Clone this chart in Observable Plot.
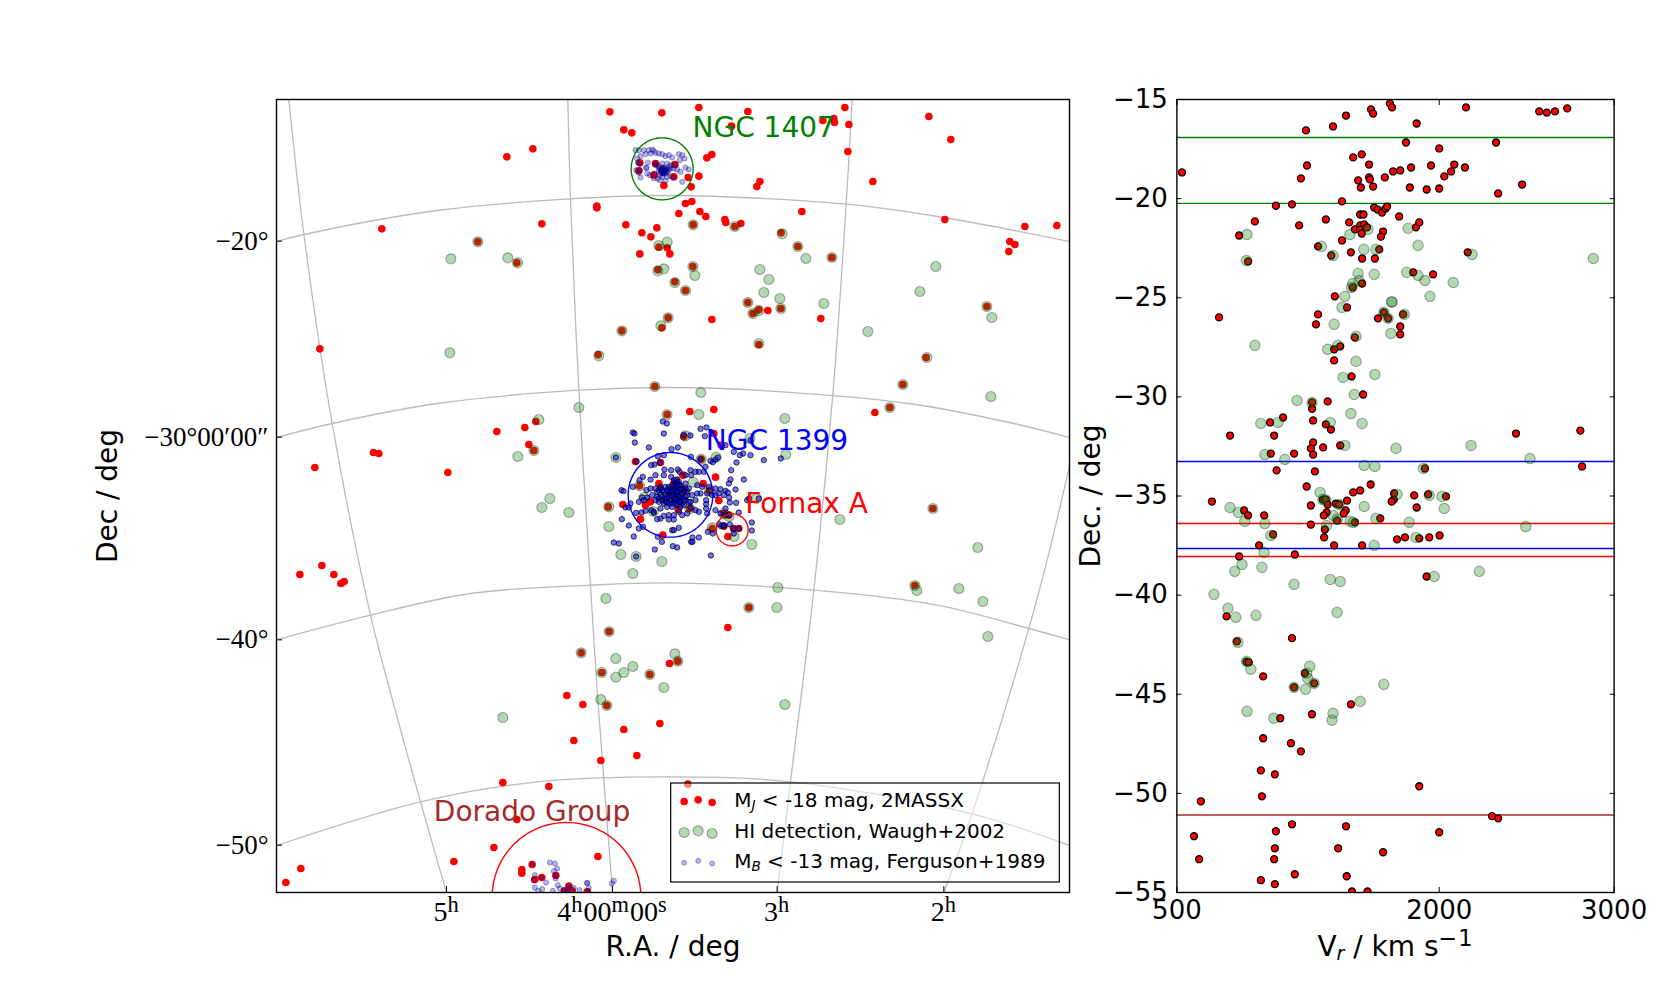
<!DOCTYPE html>
<html>
<head>
<meta charset="utf-8">
<script src="https://cdn.jsdelivr.net/npm/d3@7"></script>
<script src="https://cdn.jsdelivr.net/npm/@observablehq/plot@0.6"></script>
<style>
  body { margin: 0; background: white; }
  #chart { position: relative; width: 1680px; height: 991px; overflow: hidden; }
  #chart svg { position: absolute; top: 0; overflow: visible; }
</style>
</head>
<body>
<div id="chart"></div>
<script>
// sky map: projected offsets in arcmin from the top left corner of the panel
const redMap = [[1000,37],[1156,40],[1042,91],[1066,100],[769,148],[691,172],[961,320],[961,325],[796,373],[316,388],[1048,376],[1096,400],[1123,412],[1141,385],[1090,463],[1147,443],[1172,445],[1180,463],[604,427],[721,490],[1144,511],[1036,694],[1156,685],[1175,655],[965,766],[1135,861],[130,748],[1162,258],
  [1090,190],[1087,214],[1137,192],[1132,227],[1195,195],[1192,232],[1157,210],[1235,234],[1267,230],[1244,262],
  [1267,24],[1414,36],[1705,24],[1957,51],[1365,80],[1639,63],[1672,57],[1674,69],[1717,75],[2023,120],[1714,156],[1291,175],[1306,165],[1450,246],[1441,261],[1789,246],[1227,312],[1246,306],[1207,342],[1270,336],[1288,351],[1576,336],[1345,360],[1348,369],[1393,372],[1375,381],[1250,376],[2005,360],[2245,381],[2341,378],[2200,426],[2215,435],[2197,456],[1514,400],[1564,441],[1666,474],[1249,501],[1195,547],[1227,573],[1414,609],[1447,631],[1429,642],[1474,633],[1513,627],[1306,660],[1633,657],[2131,621],[1447,735],[1949,774],[1879,855],
  [661,996],[745,984],[778,966],[757,1035],[772,1053],[291,1059],[307,1062],[115,1104],[514,1119],[70,1425],[136,1398],[172,1425],[193,1452],[203,1446],[995,1222],[998,1596],[914,1660],[976,1719],[1120,1725],[1179,1692],[1172,945],
  [1222,1012],[1077,1086],[1152,1089],[1089,1159],[1219,1127],[1280,1152],[1317,1133],[1274,1079],[1147,1152],[1039,1215],[1107,1217],[1122,1207],[1092,1259],[1205,1230],[1240,1227],[1299,1174],[1327,1203],[1159,1307],[1342,1280],[1371,1287],[1387,1287],[1354,1311],[1307,1287],[1357,1247],[1342,1242],[1312,1002],[1334,1037],[1202,1172],[1222,1172],[1192,1152],
  [1240,936],[1312,930],[1795,939],[1840,924],[1969,1227],[1417,1524],[1354,1584],[1204,1685],[1915,1458],[1234,2054],
  [871,1788],[919,1815],[991,1818],[1042,1890],[1150,1872],[892,1923],[1081,1968],[973,1983],[679,2049],[817,2061],[721,2160],[652,2244],[964,2271],[532,2286],[73,2307],[28,2349],[767,2295],[736,2310],[736,2321],[796,2334],[775,2340],[838,2328],[877,2360],[864,2374],[887,2374],[932,2377]]

const greenMap = [[523,478],[694,475],[723,490],[604,427],[1147,438],[1172,428],[1162,508],[1144,514],[1036,694],[1153,679],[1175,655],[967,769],[520,760],[1135,861],
  [1250,376],[1375,381],[1517,403],[1564,441],[1588,477],[1666,474],[1978,501],[1450,510],[1477,540],[1249,501],[1255,528],[1195,549],[1227,573],[1462,579],[1930,576],[1510,597],[1642,612],[1414,609],[1447,633],[1429,642],[1513,627],[2131,621],[2146,654],[1774,696],[1447,732],[1951,774],[1879,855],[1273,879],
  [787,960],[907,924],[772,1053],[724,1071],[820,1197],[796,1224],[877,1239],[997,1222],[997,1281],[1018,1074],[1033,1365],[1079,1371],[1069,1422],[1156,1386],[988,1497],[998,1596],[914,1660],[976,1719],[1018,1677],[1018,1733],[1042,1719],[1069,1701],[1120,1725],[1162,1764],[1131,1236],[1102,1194],[1172,945],
  [1250,1148],[1319,1073],[1227,1009],[1420,1017],[1440,1197],[1342,1242],[1357,1251],[1307,1285],[1373,1311],[1426,1335],[1274,1079],[1089,1159],[1299,1174],[1240,1227],
  [1267,945],[1525,957],[2143,891],[1840,924],[1969,1227],[1690,1260],[2104,1344],[1528,1065],
  [1504,1464],[1501,1524],[1417,1524],[1195,1663],[1204,1685],[1525,1815],[1921,1473],[1915,1458],[2047,1467],[2119,1506],[2134,1611],
  [679,1854],[973,1800],[991,1818]]

// dwarfs around NGC 1407 and Dorado, drawn paler
const blueGroups = [[1077,152],[1087,152],[1102,152],[1117,152],[1127,150],[1132,154],[1137,160],[1122,162],[1107,164],[1092,170],[1082,177],[1147,162],[1157,164],[1167,170],[1177,167],[1187,174],[1207,164],[1217,167],[1210,182],[1224,177],[1114,189],[1110,205],[1109,205],[1084,189],[1090,192],[1079,212],[1090,212],[1087,220],[1092,234],[1137,192],[1144,197],[1157,192],[1172,192],[1182,197],[1197,195],[1192,207],[1177,212],[1162,210],[1157,217],[1167,222],[1147,212],[1150,227],[1157,232],[1134,222],[1120,227],[1132,237],[1144,237],[1182,230],[1172,232],[1192,234],[1217,247],[1150,242],[1167,244],[1202,210],[1212,217],[1227,204],[1237,210],[1112,222],[1157,212],[1162,217],[1167,212],[1160,222],[1172,217],
  [1152,210],[1157,204],[1162,204],[1167,207],[1172,210],[1147,204],[1157,220],[1162,222],[1152,220],[1167,217],[1162,214],[1154,214],[1177,202],[1182,207],[1137,197],
  [820,2289],[835,2292],[842,2307],[832,2315],[767,2294],[775,2327],[772,2342],[775,2364],[797,2369],[785,2374],[809,2349],[795,2334],[839,2327],[837,2337],[844,2357],[850,2367],[829,2374],[862,2372],[877,2360],[877,2367],[892,2365],[909,2372],[932,2350],[932,2351],[937,2365],[934,2374],[1012,2344],[1006,2352],[872,2377]]

const blueFornax = [[1069,999],[1074,1002],[1162,1002],[1159,966],[1171,972],[1222,1006],[1242,1008],[1272,988],[1290,984],[1285,1010],[1075,1029],[1117,1044],[1185,1049],[1204,1044],[1144,1070],[1162,1067],[1080,1086],[1150,1089],[1134,1095],[1124,1097],[1164,1110],[1184,1112],[1204,1110],[1243,1072],[1272,1079],[1302,1084],[1309,1088],[1317,1080],[1324,1074],[1347,1037],[1372,1057],[1390,1067],[1400,1062],[1422,1067],[1462,1082],[1513,1077],[1380,1089],[1364,1112],[1402,1140],[1362,1140],[1357,1152],[1287,1102],[1267,1117],[1282,1117],[1257,1117],[1242,1112],[1227,1127],[1209,1117],[1244,1127],[1202,1140],[1137,1127],[1162,1127],[1184,1132],[1122,1140],[1099,1132],[1089,1142],[1069,1162],[1035,1172],[1041,1175],[1110,1172],[1122,1167],[1152,1162],[1142,1177],[1167,1162],[1177,1172],[1197,1152],[1212,1157],[1227,1152],[1262,1157],[1277,1162],[1297,1162],[1317,1167],[1332,1169],[1347,1174],[1377,1170],[1358,1194],[1379,1210],[1412,1202],[1447,1197],[1418,1197],[1360,1209],[1387,1239],[1332,1242],[1347,1227],[1289,1202],[1289,1214],[1289,1227],[1272,1182],[1262,1182],[1247,1187],[1232,1187],[1292,1182],[1307,1187],[1317,1187],[1327,1182],[1354,1179],[1342,1187],[1317,1232],[1360,1275],[1257,1202],[1242,1207],[1227,1202],[1212,1202],[1197,1192],[1182,1187],[1167,1187],[1152,1187],[1142,1192],[1127,1187],[1112,1194],[1097,1194],[1102,1202],[1087,1207],[1062,1212],[1047,1224],[1057,1224],[1079,1240],[1095,1239],[1107,1234],[1124,1232],[1132,1240],[1152,1227],[1172,1222],[1187,1222],[1202,1217],[1217,1212],[1242,1224],[1257,1232],[1267,1237],[1292,1242],[1232,1242],[1217,1247],[1192,1247],[1177,1247],[1162,1249],[1152,1257],[1142,1259],[1192,1260],[1177,1260],[1207,1237],[1036,1259],[1057,1278],[1087,1287],[1100,1282],[1072,1311],[1144,1312],[1156,1327],[1187,1292],[1192,1292],[1207,1285],[1012,1329],[1027,1332],[1135,1350],[1189,1340],[1202,1344],[1248,1314],[1267,1314],[1244,1327],[1248,1327],[1294,1297],[1309,1302],[1334,1280],[1342,1280],[1371,1287],[1387,1287],[1372,1302],[1426,1269],[1426,1293],[1303,1368],[1328,1274],[1357,1247],[1347,1247],[1342,1277],
  [1182,1167],[1192,1162],[1202,1157],[1207,1167],[1197,1172],[1187,1177],[1177,1182],[1197,1182],[1207,1177],[1217,1167],[1222,1177],[1227,1167],[1212,1187],[1202,1187],[1192,1197],[1182,1202],[1172,1197],[1162,1177],[1157,1202],[1147,1207],[1162,1212],[1177,1212],[1192,1207],[1207,1207],[1217,1197],[1232,1177],[1237,1167],[1197,1142],[1202,1147],[1192,1142],[1152,1167],[1147,1172],[1137,1167],[1207,1147],[1197,1162],[1187,1192],[1202,1202],[1167,1207],[1212,1222],[1222,1217],[1237,1207],
  [1187,1157],[1177,1162],[1212,1167],[1192,1172],[1182,1177],[1202,1177],[1217,1182],[1187,1187],[1197,1197],[1207,1192],[1177,1192],[1167,1197],[1157,1192],[1147,1197],[1137,1202],[1172,1207],[1187,1212],[1197,1212],[1212,1207],[1227,1192],[1222,1202],[1172,1172],[1157,1172],[1207,1157],
  [1018,1074],[1079,1371],[1131,1236],[1422,1022]]

// graticule
const parallels = [
  [[0,426],[82,405],[482,333],[882,298],[1182,288],[1712,314],[2002,354],[2379,426]],
  [[0,1014],[167,972],[482,912],[907,872],[1182,864],[1472,874],[1897,912],[2212,972],[2379,1014]],
  [[0,1621],[282,1547],[582,1482],[942,1457],[1182,1450],[1612,1472],[1982,1517],[2257,1587],[2379,1621]],
  [[0,2238],[432,2107],[782,2047],[1182,2032],[1542,2047],[2082,2142],[2379,2238]]
]
const meridians = [
  [[37,0],[82,403],[167,972],[282,1547],[340,1772],[432,2107],[510,2379]],
  [[874,0],[882,298],[907,872],[942,1457],[962,1772],[1008,2379]],
  [[1727,0],[1709,314],[1670,872],[1612,1472],[1542,2047],[1502,2379]],
  [[2379,1100],[2312,1382],[2257,1587],[2087,2142],[2002,2379]]
]

const raTicks = [510, 1008, 1502, 2002]
const raLabels = ['5^{h}', '4^{h}00^{m}00^{s}', '3^{h}', '2^{h}']
const decTicks = [425, 1013, 1621, 2237]
const decLabels = ['−20°', '−30°00′00″', '−40°', '−50°']

const circles = [
  {name: 'NGC 1407', x: 1157, y: 208, rad: 93, color: 'green'},
  {name: 'NGC 1399', x: 1182, y: 1186, rad: 127, color: 'blue'},
  {name: 'Fornax A', x: 1367, y: 1291, rad: 48, color: 'red'},
  {name: 'Dorado Group', x: 870, y: 2392, rad: 223, color: 'red'}
]
const groupLabels = [
  {name: 'NGC 1407', x: 1248, y: 117, color: 'green'},
  {name: 'NGC 1399', x: 1288, y: 1057, color: 'blue'},
  {name: 'Fornax A', x: 1406, y: 1245, color: 'red'},
  {name: 'Dorado Group', x: 472, y: 2169, color: 'brown'}
]
const legendBox = {x1: 1184, x2: 2350, y1: 2052, y2: 2349}
const legendX = [1223, 1265, 1307]
const legendRedY = [2106, 2101, 2109]
const legendGreenY = [2199, 2194, 2202]
const legendBlueY = [2290, 2284, 2292]
const legendText = [
  {t: 'M_{J} < -18 mag, 2MASSX', y: 2104},
  {t: 'HI detection, Waugh+2002', y: 2196},
  {t: 'M_{B} < -13 mag, Ferguson+1989', y: 2287}
]

// velocity panel: [km/s, deg]
const redVel = [[529,-18.68],[1238,-16.56],[1393,-16.36],[1467,-15.81],[1610,-15.5],[1622,-15.71],[1718,-15.2],[1730,-15.4],[2153,-15.4],[1871,-16.21],[2572,-15.6],[2615,-15.66],[2662,-15.6],[2732,-15.45],[1810,-17.17],[2000,-17.47],[2325,-17.17],[1508,-17.92],[1557,-17.77],[1599,-18.28],[1244,-18.33],[1209,-18.98],[1536,-19.08],[1599,-18.93],[1604,-19.03],[1552,-19.44],[1622,-19.39],[1689,-18.93],[1736,-18.63],[1777,-18.58],[1839,-18.43],[1832,-19.44],[1928,-19.54],[1953,-18.33],[2000,-19.49],[2029,-18.88],[2068,-18.63],[2086,-18.28],[2147,-18.43],[2337,-19.74],[2474,-19.29],[1444,-20.14],[1066,-20.36],[1158,-20.29],[1628,-20.45],[1648,-20.55],[1673,-20.7],[1693,-20.5],[1702,-20.4],[1548,-20.8],[1567,-20.8],[1771,-20.9],[1352,-21.05],[946,-21.15],[1199,-21.35],[1485,-21.2],[1518,-21.55],[1548,-21.35],[1548,-21.57],[1571,-21.3],[1587,-21.45],[1557,-21.76],[1679,-21.66],[1667,-21.92],[1867,-21.45],[1886,-21.2],[856,-21.86],[1444,-22.11],[1307,-22.41],[1383,-22.87],[1495,-22.71],[1559,-23.02],[1632,-23.02],[1657,-22.56],[2163,-22.71],[907,-23.17],[1851,-23.72],[1965,-23.82],[1559,-24.28],[1505,-24.48],[1403,-24.93],[1473,-25.49],[1307,-25.84],[1295,-26.34],[741,-25.99],[1683,-25.74],[1650,-26.04],[1708,-26.04],[1794,-25.84],[1777,-26.45],[1777,-26.85],[1518,-27],[1434,-27.45],[1399,-27.6],[1399,-28.16],
  [1499,-28.97],[1565,-29.88],[1362,-30.23],[1273,-30.28],[1273,-30.6],[1279,-31.19],[1107,-31.04],[1033,-31.29],[1352,-31.39],[1381,-31.65],[804,-31.95],[1056,-31.95],[1279,-32.3],[1266,-32.6],[1336,-32.55],[1434,-32.45],[1279,-32.91],[1037,-32.86],[1170,-32.86],[2439,-31.85],[2807,-31.7],[2817,-33.51],[1918,-33.61],[1289,-33.76],[1070,-33.71],[1242,-34.52],[1608,-34.42],[1548,-34.72],[1508,-34.82],[1742,-34.87],[1857,-34.97],[1937,-34.92],[2039,-35.02],[1740,-35.18],[1728,-35.28],[1871,-35.58],[700,-35.28],[1334,-35.18],[1352,-35.18],[1473,-35.23],[1409,-35.38],[1362,-35.43],[1428,-35.43],[1266,-35.48],[884,-35.73],[907,-35.98],[999,-35.98],[1465,-35.73],[1454,-35.88],[1356,-35.83],[1340,-35.98],[1663,-36.13],[1416,-36.23],[1518,-36.33],[1266,-36.44],[1346,-36.69],[1342,-37.09],[1050,-36.94],[1759,-37.19],[1804,-37.09],[1886,-37.14],[1943,-37.09],[2002,-36.99],[970,-37.49],[1399,-37.49],[1559,-37.49],[856,-38.05],[1174,-37.95],[1928,-39.06],[784,-41.07],[1158,-42.17],
  [843,-42.33],[898,-43.36],[911,-43.39],[993,-44.1],[1232,-43.94],[1285,-44.45],[1170,-44.65],[1495,-45.51],[1272,-46.01],[1091,-46.21],[993,-47.22],[1152,-47.47],[1209,-47.88],[980,-48.84],[1060,-49.04],[1886,-49.64],[986,-50.15],[637,-50.4],[2302,-51.15],[2337,-51.26],[1158,-51.56],[1467,-51.66],[1066,-51.91],[2000,-51.96],[598,-52.16],[1060,-52.77],[1422,-52.77],[1679,-52.97],[1056,-53.32],[627,-53.32],[1174,-54.08],[1471,-54.18],[980,-54.38],[1060,-54.58],[1501,-54.95],[1590,-54.95]]

const greenVel = [[901,-21.81],[1326,-22.41],[1393,-22.87],[898,-23.12],[1489,-21.81],[1593,-21.55],[1822,-21.5],[1879,-22.36],[1569,-22.56],[1638,-22.56],[2188,-22.81],[2881,-23.02],[1536,-23.77],[1628,-23.82],[1814,-23.72],[1879,-23.87],[1918,-24.13],[2080,-24.23],[1542,-24.13],[1505,-24.28],[1499,-24.48],[1460,-24.93],[1947,-24.93],[1730,-25.22],[1728,-25.2],[1444,-25.49],[1683,-25.74],[1708,-26.04],[1800,-25.84],[1399,-26.34],[1724,-26.8],[1524,-26.95],[946,-27.4],[1362,-27.6],[1420,-27.4],[1524,-28.21],
  [1632,-28.87],[1450,-29.02],[1514,-29.88],[1187,-30.18],[1273,-30.28],[1495,-30.84],[980,-31.34],[1078,-31.29],[1377,-31.29],[1559,-31.34],[1460,-32.45],[1753,-32.6],[2182,-32.45],[1003,-32.91],[1117,-33.16],[2519,-33.11],[1571,-33.46],[1632,-33.51],[1910,-33.61],[1319,-34.82],[1759,-34.92],[1943,-34.97],[2016,-35.02],[1334,-35.18],[1352,-35.21],[1428,-35.43],[1571,-35.53],[804,-35.58],[852,-35.83],[2029,-35.63],[888,-36.28],[1003,-36.39],[1393,-35.98],[1416,-36.18],[1491,-36.28],[1509,-36.33],[1638,-36.13],[1828,-36.33],[1356,-36.49],[2495,-36.54],[1037,-36.99],[1867,-37.09],[1628,-37.49],[999,-37.85],[872,-38.45],[831,-38.8],[986,-38.6],[2229,-38.8],[1377,-39.21],[1434,-39.31],[1971,-39.06],[1170,-39.46],[712,-39.96],[792,-40.67],[837,-41.12],[952,-41.02],[1416,-40.87],
  [849,-42.38],[898,-43.34],[923,-43.74],[1260,-43.59],[1242,-43.94],[1248,-44.2],[1285,-44.45],[1170,-44.65],[1236,-44.75],[1683,-44.5],[1548,-45.36],[1393,-45.96],[1387,-46.31],[901,-45.86],[1054,-46.21]]

const bandLines = [
  {dec: -16.92, color: 'green'},
  {dec: -20.24, color: 'green'},
  {dec: -33.26, color: 'blue'},
  {dec: -37.65, color: 'blue'},
  {dec: -36.39, color: 'red'},
  {dec: -38.05, color: 'red'},
  {dec: -51.09, color: 'brown'}
]
const velTicks = [500, 2000, 3000]
const decAxisTicks = [-15, -20, -25, -30, -35, -40, -45, -50, -55]

const serif = '"Liberation Serif", serif'
const sans = '"DejaVu Sans", sans-serif'

const circlePath = c => d3.range(0, 361, 3).map(a => ({
  name: c.name,
  color: c.color,
  x: c.x + c.rad * Math.cos(a * Math.PI / 180),
  y: c.y + c.rad * Math.sin(a * Math.PI / 180)
}))

const pts = (xs, ys) => xs.map((x, i) => [x, ys[i]])

const mapPlot = Plot.plot({
  width: 1100,
  height: 991,
  marginLeft: 276,
  marginRight: 31,
  marginTop: 99,
  marginBottom: 99,
  style: {fontFamily: sans, background: 'transparent'},
  x: {domain: [0, 2379], axis: null},
  y: {domain: [2379, 0], axis: null},
  marks: [
    ...parallels.concat(meridians).map(g =>
      Plot.line(g, {x: '0', y: '1', curve: 'catmull-rom', stroke: '#bbbbbb', strokeWidth: 1.3, clip: true})),
    Plot.dot(redMap, {x: '0', y: '1', r: 3.8, fill: 'red', clip: true}),
    Plot.dot(greenMap, {x: '0', y: '1', r: 5, fill: 'green', fillOpacity: 0.3, stroke: 'black', strokeOpacity: 0.3, strokeWidth: 1.2, clip: true}),
    Plot.dot(blueGroups, {x: '0', y: '1', r: 2.6, fill: 'blue', fillOpacity: 0.3, stroke: 'black', strokeOpacity: 0.3, strokeWidth: 1, clip: true}),
    Plot.dot(blueFornax, {x: '0', y: '1', r: 2.7, fill: 'blue', fillOpacity: 0.55, stroke: 'black', strokeOpacity: 0.7, strokeWidth: 1, clip: true}),
    ...circles.map(c => Plot.line(circlePath(c), {x: 'x', y: 'y', stroke: 'color', strokeWidth: 1.4, clip: true})),
    Plot.text(groupLabels, {x: 'x', y: 'y', text: 'name', fill: 'color', fontSize: 28, textAnchor: 'start', lineAnchor: 'bottom', dy: -2}),
    Plot.rect([legendBox], {x1: 'x1', x2: 'x2', y1: 'y1', y2: 'y2', fill: 'white', fillOpacity: 0.5, stroke: 'black', strokeWidth: 1.2}),
    Plot.dot(pts(legendX, legendRedY), {x: '0', y: '1', r: 3.8, fill: 'red'}),
    Plot.dot(pts(legendX, legendGreenY), {x: '0', y: '1', r: 5, fill: 'green', fillOpacity: 0.3, stroke: 'black', strokeOpacity: 0.3, strokeWidth: 1.2}),
    Plot.dot(pts(legendX, legendBlueY), {x: '0', y: '1', r: 2.5, fill: 'blue', fillOpacity: 0.3, stroke: 'black', strokeOpacity: 0.3, strokeWidth: 1}),
    Plot.text(legendText, {x: () => 1373, y: 'y', text: 't', fontSize: 20, textAnchor: 'start', fill: 'black'}),
    Plot.frame({stroke: 'black', strokeWidth: 1.4}),
    Plot.axisX({ticks: raTicks, tickFormat: (d, i) => raLabels[i], tickSize: -6, tickPadding: 15, fontSize: 28, fontFamily: serif, label: null, fill: 'black', stroke: 'black'}),
    Plot.axisY({ticks: decTicks, tickFormat: (d, i) => decLabels[i], tickSize: -6, tickPadding: 14, fontSize: 27, fontFamily: serif, label: null, fill: 'black', stroke: 'black'}),
    Plot.text(['R.A. / deg'], {frameAnchor: 'bottom', dy: 63, fontSize: 28, lineAnchor: 'bottom', fill: 'black'}),
    Plot.text(['Dec / deg'], {frameAnchor: 'left', textAnchor: 'middle', dx: -168, rotate: -90, fontSize: 28, fill: 'black'})
  ]
})

const velPlot = Plot.plot({
  width: 580,
  height: 991,
  marginLeft: 76.4,
  marginRight: 66.4,
  marginTop: 99,
  marginBottom: 99,
  style: {fontFamily: sans, background: 'transparent'},
  x: {domain: [500, 3000], axis: null},
  y: {domain: [-55, -15], axis: null},
  marks: [
    Plot.ruleY(bandLines, {y: 'dec', stroke: 'color', strokeWidth: 1.4}),
    Plot.dot(redVel, {x: '0', y: '1', r: 3.5, fill: 'red', stroke: 'black', strokeWidth: 1.3, clip: true}),
    Plot.dot(greenVel, {x: '0', y: '1', r: 5.2, fill: 'green', fillOpacity: 0.3, stroke: 'black', strokeOpacity: 0.3, strokeWidth: 1.2, clip: true}),
    Plot.frame({stroke: 'black', strokeWidth: 1.4}),
    Plot.axisX({ticks: velTicks, tickSize: -5, tickPadding: 13, tickFormat: d => String(d), fontSize: 26, label: null, fill: 'black', stroke: 'black'}),
    Plot.axisX({anchor: 'top', ticks: velTicks, tickSize: -5, tickFormat: () => '', label: null, stroke: 'black'}),
    Plot.axisY({ticks: decAxisTicks, tickSize: -5, tickPadding: 14, tickFormat: d => String(d).replace('-', '−'), fontSize: 26, label: null, fill: 'black', stroke: 'black'}),
    Plot.axisY({anchor: 'right', ticks: decAxisTicks, tickSize: -5, tickFormat: () => '', label: null, stroke: 'black'}),
    Plot.text(['V_{r} / km s^{−1}'], {frameAnchor: 'bottom', dy: 63, fontSize: 28, lineAnchor: 'bottom', fill: 'black'}),
    Plot.text(['Dec. / deg'], {frameAnchor: 'left', textAnchor: 'middle', dx: -86, rotate: -90, fontSize: 28, fill: 'black'})
  ]
})

// turn the _{x} and ^{x} markers into real sub and superscripts
function scripts(svg) {
  svg.querySelectorAll('text').forEach(node => {
    const s = node.textContent
    if (!/[_^]\{/.test(s)) return
    node.textContent = ''
    const sel = d3.select(node)
    let base = 0
    s.split(/([_^]\{[^}]*\})/).filter(p => p !== '').forEach(p => {
      const m = p.match(/^([_^])\{(.*)\}$/)
      const t = sel.append('tspan')
      if (m) {
        const size = m[1] == '^' ? 0.8 : 0.68
        const target = m[1] == '^' ? -0.33 : 0.15
        t.text(m[2]).attr('font-size', (size * 100) + '%').attr('dy', ((target - base) / size) + 'em')
        if (m[1] == '_') t.attr('font-style', 'italic')
        else t.attr('letter-spacing', '1px')
        base = target
      } else {
        t.text(p).attr('dy', (-base) + 'em')
        base = 0
      }
    })
  })
}
scripts(mapPlot)
scripts(velPlot)

velPlot.style.left = '1100px'
d3.select('#chart').append(() => mapPlot)
d3.select('#chart').append(() => velPlot)
</script>
</body>
</html>
